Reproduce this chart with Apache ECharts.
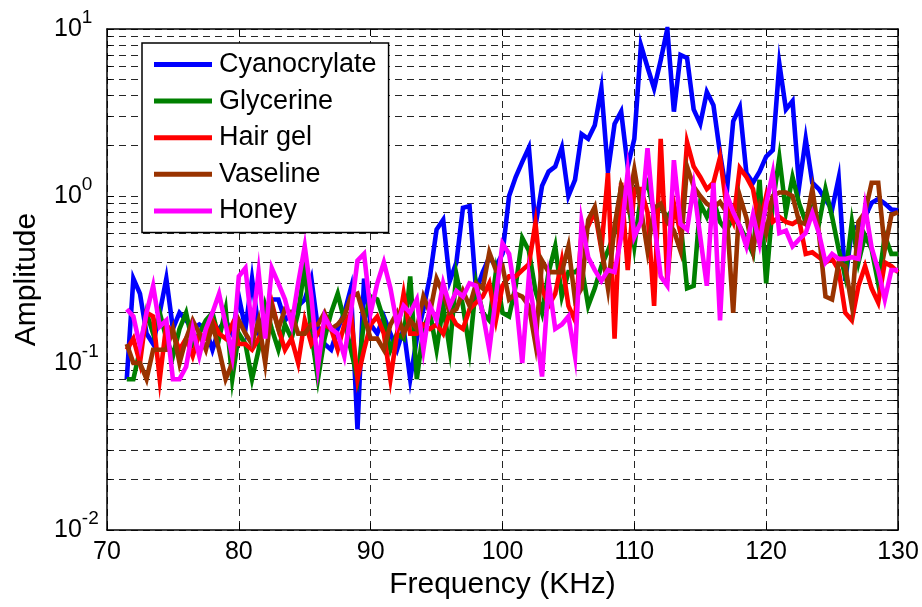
<!DOCTYPE html>
<html>
<head>
<meta charset="utf-8">
<title>Amplitude vs Frequency</title>
<script src="https://cdn.jsdelivr.net/npm/echarts@6/dist/echarts.min.js"></script>
<style>
  html, body { margin: 0; padding: 0; background: #ffffff; }
  #chart { width: 922px; height: 607px; }
</style>
</head>
<body>
<div id="chart"></div>
<script>
// Frequency sweep (kHz)
const freqKHz = [
  71.5, 72, 72.5, 73, 73.5, 74, 74.5, 75, 75.5, 76, 76.5, 77, 77.5, 78, 78.5, 79, 79.5, 80,
  80.5, 81, 81.5, 82, 82.5, 83, 83.5, 84, 84.5, 85, 85.5, 86, 86.5, 87, 87.5, 88, 88.5, 89, 89.5, 90,
  90.5, 91, 91.5, 92, 92.5, 93, 93.5, 94, 94.5, 95, 95.5, 96, 96.5, 97, 97.5, 98, 98.5, 99, 99.5, 100,
  100.5, 101, 101.5, 102, 102.5, 103, 103.5, 104, 104.5, 105, 105.5, 106, 106.5, 107, 107.5, 108, 108.5, 109, 109.5, 110,
  110.5, 111, 111.5, 112, 112.5, 113, 113.5, 114, 114.5, 115, 115.5, 116, 116.5, 117, 117.5, 118, 118.5, 119, 119.5, 120,
  120.5, 121, 121.5, 122, 122.5, 123, 123.5, 124, 124.5, 125, 125.5, 126, 126.5, 127, 127.5, 128, 128.5, 129, 129.5, 130
];

// Measured amplitudes, one value per frequency
const cyanocrylate = [
  0.08, 0.32, 0.26, 0.15, 0.13, 0.2, 0.32, 0.16, 0.2, 0.18, 0.16, 0.17, 0.16, 0.12, 0.16, 0.18, 0.15, 0.25,
  0.16, 0.32, 0.16, 0.2, 0.24, 0.24, 0.18, 0.2, 0.22, 0.24, 0.32, 0.16, 0.13, 0.12, 0.16, 0.2, 0.28, 0.04, 0.32, 0.17,
  0.15, 0.19, 0.15, 0.12, 0.16, 0.08, 0.14, 0.21, 0.33, 0.63, 0.72, 0.31, 0.4, 0.85, 0.87, 0.27, 0.35, 0.43, 0.38, 0.45,
  1.0, 1.3, 1.6, 1.95, 0.66, 1.15, 1.4, 1.5, 1.95, 1.0, 1.25, 2.35, 2.2, 2.65, 4.4, 1.4, 2.7, 3.2, 1.5, 2.2,
  8.0, 5.9, 4.4, 6.5, 10, 3.2, 7.0, 6.7, 3.3, 2.7, 4.2, 3.5, 1.8, 1.03, 2.8, 3.4, 1.37, 1.2, 1.4, 1.72,
  1.88, 6.2, 3.3, 3.7, 1.14, 2.2, 1.2, 1.1, 0.95, 0.83, 1.28, 0.31, 0.63, 0.66, 0.75, 0.91, 0.96, 0.9, 0.83, 0.82
];
const glycerine = [
  0.08, 0.08, 0.12, 0.2, 0.15, 0.2, 0.14, 0.11, 0.16, 0.2, 0.13, 0.15, 0.18, 0.2, 0.14, 0.21, 0.08, 0.15,
  0.13, 0.08, 0.12, 0.22, 0.16, 0.12, 0.17, 0.14, 0.2, 0.38, 0.15, 0.08, 0.14, 0.2, 0.26, 0.18, 0.12, 0.08, 0.18, 0.25,
  0.24, 0.18, 0.12, 0.15, 0.14, 0.33, 0.08, 0.16, 0.2, 0.12, 0.22, 0.12, 0.34, 0.22, 0.12, 0.3, 0.2, 0.18, 0.35, 0.2,
  0.19, 0.29, 0.56, 0.47, 0.27, 0.2, 0.35, 0.5, 0.25, 0.35, 0.35, 0.38, 0.22, 0.28, 0.38, 0.47, 0.6, 1.14, 1.0, 0.5,
  1.0, 1.2, 0.8, 0.85, 0.75, 0.85, 0.7, 0.28, 0.29, 0.9, 0.75, 0.95, 0.7, 0.62, 0.75, 0.66, 0.55, 0.45, 1.25, 0.3,
  0.9, 1.7, 0.8, 1.3, 0.9, 0.7, 0.85, 0.68, 1.1, 0.75, 0.48, 0.33, 0.7, 0.4, 0.58, 0.48, 0.3, 0.58, 0.45, 0.45
];
const hairGel = [
  0.12, 0.14, 0.1, 0.2, 0.19, 0.08, 0.17, 0.15, 0.12, 0.14, 0.11, 0.15, 0.14, 0.18, 0.15, 0.14, 0.17, 0.13,
  0.13, 0.12, 0.14, 0.16, 0.23, 0.16, 0.12, 0.14, 0.1, 0.18, 0.13, 0.15, 0.17, 0.16, 0.12, 0.17, 0.2, 0.08, 0.12, 0.17,
  0.19, 0.15, 0.08, 0.15, 0.26, 0.15, 0.15, 0.17, 0.16, 0.17, 0.15, 0.2, 0.17, 0.16, 0.21, 0.23, 0.25, 0.3, 0.18, 0.29,
  0.33, 0.33, 0.36, 0.39, 0.69, 0.28, 0.22, 0.26, 0.41, 0.22, 0.18, 0.6, 0.66, 0.81, 0.48, 1.37, 0.14, 1.2, 0.36, 1.1,
  1.1, 0.8, 0.22, 2.2, 0.31, 0.9, 0.6, 2.1, 1.5, 1.3, 1.1, 1.2, 1.7, 0.86, 0.7, 1.47, 1.3, 1.1, 0.66, 1.0,
  0.7, 0.75, 0.7, 0.68, 0.72, 0.45, 0.46, 0.43, 0.4, 0.42, 0.36, 0.2, 0.18, 0.29, 0.38, 0.28, 0.23, 0.4, 0.38, 0.35
];
const vaseline = [
  0.13, 0.1, 0.1, 0.08, 0.12, 0.12, 0.12, 0.16, 0.1, 0.14, 0.18, 0.15, 0.12, 0.17, 0.12, 0.08, 0.1, 0.18,
  0.15, 0.13, 0.18, 0.1, 0.22, 0.16, 0.21, 0.2, 0.15, 0.15, 0.17, 0.17, 0.2, 0.16, 0.17, 0.19, 0.25, 0.26, 0.19, 0.14,
  0.14, 0.12, 0.17, 0.2, 0.15, 0.18, 0.16, 0.25, 0.2, 0.32, 0.26, 0.2, 0.21, 0.27, 0.22, 0.3, 0.28, 0.46, 0.36, 0.38,
  0.24, 0.26, 0.25, 0.22, 0.13, 0.41, 0.35, 0.35, 0.35, 0.5, 0.24, 0.28, 0.72, 0.86, 0.5, 0.28, 0.66, 1.14, 0.86, 1.44,
  0.84, 0.47, 0.85, 0.9, 0.7, 0.62, 0.47, 1.5, 1.14, 1.0, 0.9, 0.85, 0.92, 0.8, 0.2, 1.0, 0.74, 0.47, 0.84, 0.6,
  1.0, 1.05, 1.05, 1.0, 0.7, 0.68, 1.1, 0.6, 0.25, 0.24, 0.4, 0.38, 0.22, 0.7, 0.8, 1.2, 1.2, 0.48, 0.77, 0.8
];
const honey = [
  0.21, 0.19, 0.126, 0.2, 0.29, 0.165, 0.18, 0.08, 0.08, 0.095, 0.16, 0.11, 0.16, 0.2, 0.26, 0.17, 0.11, 0.33,
  0.37, 0.16, 0.35, 0.14, 0.37, 0.3, 0.24, 0.17, 0.3, 0.5, 0.25, 0.095, 0.19, 0.16, 0.15, 0.11, 0.2, 0.41, 0.45, 0.2,
  0.3, 0.4, 0.28, 0.17, 0.22, 0.2, 0.24, 0.12, 0.22, 0.18, 0.3, 0.22, 0.27, 0.25, 0.3, 0.29, 0.2, 0.12, 0.25, 0.52,
  0.45, 0.25, 0.1, 0.33, 0.17, 0.083, 0.31, 0.16, 0.17, 0.19, 0.11, 0.7, 0.43, 0.36, 0.31, 0.36, 0.35, 0.57, 1.4, 0.57,
  0.7, 1.93, 0.7, 0.33, 0.29, 1.64, 0.68, 0.63, 1.14, 0.57, 0.29, 1.2, 0.18, 1.03, 0.8, 0.66, 0.5, 0.77, 0.52, 0.9,
  1.37, 0.6, 0.62, 0.5, 0.55, 0.6, 0.79, 0.6, 0.4, 0.45, 0.42, 0.42, 0.43, 0.42, 0.86, 0.49, 0.36, 0.24, 0.36, 0.36
];

const seriesNames = ['Cyanocrylate', 'Glycerine', 'Hair gel', 'Vaseline', 'Honey'];
const seriesColors = ['#0000ff', '#008000', '#ff0000', '#993300', '#ff00ff'];
const seriesValues = [cyanocrylate, glycerine, hairGel, vaseline, honey];

// Axis ticks
const xMin = 70, xMax = 130, xStep = 10;
const yMin = 0.01, yMax = 10;
const yMinorTicks = [0.02, 0.03, 0.04, 0.05, 0.06, 0.07, 0.08, 0.09,
                     0.2, 0.3, 0.4, 0.5, 0.6, 0.7, 0.8, 0.9,
                     2, 3, 4, 5, 6, 7, 8, 9];

const FONT = '"Liberation Sans", Arial, Helvetica, sans-serif';
const gridDash = { color: '#262626', width: 1, type: [7, 5] };
const minorTickLen = 0.33; // in kHz, short inward ticks at left/right edges

const chart = echarts.init(document.getElementById('chart'), null, { renderer: 'canvas' });

const dataSeries = seriesNames.map((name, k) => ({
  type: 'line',
  name: name,
  data: freqKHz.map((f, i) => [f, seriesValues[k][i]]),
  showSymbol: false,
  symbol: 'none',
  smooth: false,
  lineStyle: { color: seriesColors[k], width: 4.6, join: 'miter' },
  itemStyle: { color: seriesColors[k] },
  emphasis: { disabled: true },
  z: 5 + k,
  animation: false
}));

// Minor log grid lines and minor ticks drawn as mark lines on the same scales
const minorGrid = {
  type: 'line',
  name: 'minor-grid',
  data: [],
  silent: true,
  z: 1,
  animation: false,
  markLine: {
    silent: true,
    symbol: ['none', 'none'],
    label: { show: false },
    emphasis: { disabled: true },
    animation: false,
    lineStyle: gridDash,
    data: yMinorTicks.map(v => ({ yAxis: v }))
  }
};
const minorTicks = {
  type: 'line',
  name: 'minor-ticks',
  data: [],
  silent: true,
  z: 4,
  animation: false,
  markLine: {
    silent: true,
    symbol: ['none', 'none'],
    label: { show: false },
    emphasis: { disabled: true },
    animation: false,
    lineStyle: { color: '#000', width: 1, type: 'solid' },
    data: yMinorTicks.flatMap(v => [
      [{ coord: [xMin, v] }, { coord: [xMin + minorTickLen, v] }],
      [{ coord: [xMax - minorTickLen, v] }, { coord: [xMax, v] }]
    ])
  }
};

const axisLineStyle = { show: true, onZero: false, lineStyle: { color: '#000', width: 1.5 } };
const tickStyle = { show: true, inside: true, length: 7, lineStyle: { color: '#000', width: 1 } };

const option = {
  backgroundColor: '#ffffff',
  animation: false,
  grid: { left: 107, right: 24, top: 29, bottom: 77, show: false },
  legend: {
    z: 30,
    data: seriesNames,
    orient: 'vertical',
    left: 142,
    top: 43,
    padding: [8, 12, 8, 12],
    itemGap: 9.6,
    itemWidth: 58,
    itemHeight: 5,
    icon: 'rect',
    selectedMode: false,
    backgroundColor: '#ffffff',
    borderColor: '#000',
    borderWidth: 1.5,
    borderRadius: 0,
    textStyle: { fontFamily: FONT, fontSize: 27, color: '#000', lineHeight: 27, padding: [0, 0, 0, 2] }
  },
  xAxis: [
    {
      type: 'value', position: 'bottom', min: xMin, max: xMax, interval: xStep,
      axisLine: axisLineStyle,
      axisTick: tickStyle,
      axisLabel: { fontFamily: FONT, fontSize: 25, color: '#000', margin: 10 },
      splitLine: { show: true, lineStyle: gridDash },
      name: 'Frequency (KHz)', nameLocation: 'middle', nameGap: 36,
      nameTextStyle: { fontFamily: FONT, fontSize: 30, color: '#000' }
    },
    {
      type: 'value', position: 'top', min: xMin, max: xMax, interval: xStep,
      axisLine: axisLineStyle,
      axisTick: tickStyle,
      axisLabel: { show: false },
      splitLine: { show: false }
    }
  ],
  yAxis: [
    {
      type: 'log', logBase: 10, position: 'left', min: yMin, max: yMax,
      axisLine: axisLineStyle,
      axisTick: tickStyle,
      axisLabel: {
        align: 'left', margin: 53,
        formatter: v => '{b|10}{e|' + Math.round(Math.log10(v)) + '}',
        rich: {
          b: { fontFamily: FONT, fontSize: 25, color: '#000' },
          e: { fontFamily: FONT, fontSize: 19, lineHeight: 19, color: '#000', padding: [0, 0, 22, 0] }
        }
      },
      splitLine: { show: true, lineStyle: gridDash },
      name: 'Amplitude', nameLocation: 'middle', nameGap: 65,
      nameTextStyle: { fontFamily: FONT, fontSize: 30, color: '#000' }
    },
    {
      type: 'log', logBase: 10, position: 'right', min: yMin, max: yMax,
      axisLine: axisLineStyle,
      axisTick: tickStyle,
      axisLabel: { show: false },
      splitLine: { show: false }
    }
  ],
  series: [minorGrid, minorTicks].concat(dataSeries)
};

chart.setOption(option);
</script>
</body>
</html>
